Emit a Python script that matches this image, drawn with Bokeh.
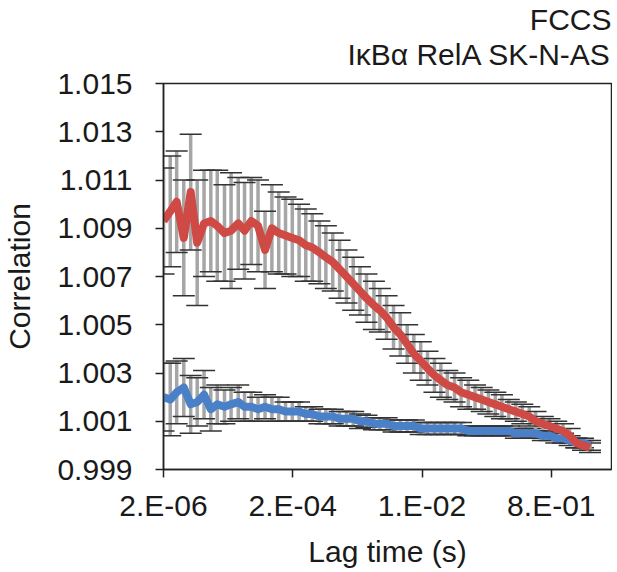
from bokeh.plotting import figure
from bokeh.models import ColumnDataSource, Whisker, TeeHead, FixedTicker, PrintfTickFormatter, Title, Range1d
from bokeh.embed import file_html
from bokeh.resources import INLINE

# Lag time (s)
lag_time = [2.2e-6, 2.75e-6, 3.4e-6, 4.3e-6, 5.4e-6, 6.7e-6, 8.4e-6, 1.05e-5, 1.3e-5, 1.65e-5,
            2.05e-5, 2.6e-5, 3.2e-5, 4.0e-5, 5.0e-5, 6.3e-5, 7.9e-5, 9.9e-5, 1.24e-4, 1.55e-4,
            1.94e-4, 2.42e-4, 3.0e-4, 3.8e-4, 4.7e-4, 5.9e-4, 7.4e-4, 9.3e-4, 1.16e-3, 1.45e-3,
            1.8e-3, 2.3e-3, 2.8e-3, 3.5e-3, 4.4e-3, 5.5e-3, 6.9e-3, 8.6e-3, 1.08e-2, 1.35e-2,
            1.7e-2, 2.1e-2, 2.6e-2, 3.3e-2, 4.1e-2, 5.2e-2, 6.5e-2, 8.1e-2, 0.101, 0.127,
            0.158, 0.198, 0.25, 0.31, 0.39, 0.48, 0.61, 0.76, 0.95, 1.19,
            1.48, 1.85, 2.3, 2.9]

# Cross-correlation (red)
red_mean = [1.0093, 1.0097, 1.0101, 1.0086, 1.0105, 1.0084, 1.0092, 1.0093, 1.0091, 1.0088,
            1.0089, 1.0092, 1.0089, 1.0093, 1.0091, 1.0081, 1.0090, 1.0088, 1.0087, 1.0086,
            1.0085, 1.0083, 1.0082, 1.0080, 1.0078, 1.0076, 1.0073, 1.0070, 1.0067, 1.0064,
            1.0061, 1.0058, 1.0056, 1.0053, 1.0049, 1.0046, 1.0042, 1.0038, 1.0035, 1.0032,
            1.0029, 1.0027, 1.0025, 1.0024, 1.0022, 1.0021, 1.0020, 1.0019, 1.0018, 1.0017,
            1.0016, 1.0015, 1.0014, 1.0013, 1.0012, 1.0010, 1.0009, 1.0008, 1.0007, 1.0006,
            1.0004, 1.0001, 1.0000, 0.9999]
red_err = [0.0022, 0.0023, 0.0021, 0.0024, 0.0024, 0.0026, 0.0022, 0.0021, 0.0023, 0.0020,
           0.0024, 0.0019, 0.0020, 0.0018, 0.0019, 0.0016, 0.0018, 0.0017, 0.0016, 0.0016,
           0.0015, 0.0015, 0.0014, 0.0013, 0.0013, 0.0012, 0.0012, 0.0011, 0.0011, 0.0010,
           0.0010, 0.0010, 0.0009, 0.0009, 0.0009, 0.0009, 0.0008, 0.0008, 0.0008, 0.0007,
           0.0007, 0.0007, 0.0006, 0.0006, 0.0006, 0.0006, 0.0005, 0.0005, 0.0005, 0.0005,
           0.0005, 0.0004, 0.0004, 0.0004, 0.0004, 0.0004, 0.0003, 0.0003, 0.0003, 0.0003,
           0.0003, 0.0002, 0.0002, 0.0002]

# Control (blue)
blue_mean = [1.0020, 1.0019, 1.0022, 1.0024, 1.0017, 1.0018, 1.0021, 1.0015, 1.0017, 1.0016,
             1.0017, 1.0018, 1.0016, 1.0016, 1.0015, 1.0016, 1.0015, 1.0015, 1.0014, 1.0014,
             1.0014, 1.0013, 1.0013, 1.0012, 1.0012, 1.0012, 1.0011, 1.0011, 1.0011, 1.0010,
             1.0010, 1.0009, 1.0009, 1.0009, 1.0008, 1.0008, 1.0008, 1.0008, 1.0007, 1.0007,
             1.0007, 1.0007, 1.0007, 1.0007, 1.0007, 1.0006, 1.0006, 1.0006, 1.0006, 1.0006,
             1.0006, 1.0006, 1.0005, 1.0005, 1.0005, 1.0005, 1.0004, 1.0004, 1.0003, 1.0003,
             1.0002, 1.0001, 1.0001, 1.0000]
blue_err = [0.0014, 0.0015, 0.0013, 0.0012, 0.0012, 0.0010, 0.0010, 0.0009, 0.0008, 0.0007,
            0.0007, 0.0007, 0.0006, 0.0006, 0.0005, 0.0005, 0.0005, 0.0005, 0.0004, 0.0004,
            0.0004, 0.0003, 0.0003, 0.0003, 0.0003, 0.0003, 0.0003, 0.0003, 0.0003, 0.0003,
            0.00025, 0.00025, 0.00025, 0.00025, 0.00025, 0.00025, 0.00025, 0.00025, 0.00025, 0.00025,
            0.00025, 0.00025, 0.00025, 0.00025, 0.00025, 0.0002, 0.0002, 0.0002, 0.0002, 0.0002,
            0.0002, 0.0002, 0.0002, 0.0002, 0.0002, 0.0002, 0.0002, 0.0002, 0.0002, 0.0002,
            0.0002, 0.0002, 0.0002, 0.0002]

x_ticks = [2.2e-6, 1.575e-4, 1.128e-2, 8.075e-1]
x_tick_labels = ["2.E-06", "2.E-04", "1.E-02", "8.E-01"]
y_ticks = [0.999, 1.001, 1.003, 1.005, 1.007, 1.009, 1.011, 1.013, 1.015]

FONT = "Liberation Sans"
FS = "30px"
TXT = "#1a1a1a"

red_src = ColumnDataSource(dict(x=lag_time, y=red_mean,
                                lo=[m - e for m, e in zip(red_mean, red_err)],
                                hi=[m + e for m, e in zip(red_mean, red_err)]))
blue_src = ColumnDataSource(dict(x=lag_time, y=blue_mean,
                                 lo=[m - e for m, e in zip(blue_mean, blue_err)],
                                 hi=[m + e for m, e in zip(blue_mean, blue_err)]))

p = figure(x_axis_type="log", frame_width=448, frame_height=386,
           x_range=Range1d(2.2e-6, 5.9), y_range=Range1d(0.999, 1.015),
           output_backend="svg", toolbar_location=None,
           min_border_left=10, min_border_right=1, min_border_top=0, min_border_bottom=5)

# titles: first added sits closest to the frame
p.add_layout(Title(text=" ", align="right", text_font=FONT, text_font_size="1px", standoff=10), "above")
p.add_layout(Title(text="IκBα RelA SK-N-AS", align="right", text_font=FONT, standoff=0,
                   text_font_size=FS, text_font_style="normal", text_color=TXT), "above")
p.add_layout(Title(text="FCCS", align="right", text_font=FONT, standoff=0,
                   text_font_size=FS, text_font_style="normal", text_color=TXT), "above")

p.xgrid.visible = False
p.ygrid.visible = False
p.outline_line_color = "#222222"
p.outline_line_width = 1.5
p.background_fill_color = "white"
p.border_fill_color = "white"

for ax in (p.xaxis[0], p.yaxis[0]):
    ax.axis_line_color = "#222222"
    ax.axis_line_width = 1.5
    ax.major_tick_line_color = "#222222"
    ax.major_tick_line_width = 1.5
    ax.major_tick_in = 0
    ax.major_tick_out = 8
    ax.minor_tick_line_color = None
    ax.major_label_text_font = FONT
    ax.major_label_text_font_size = FS
    ax.major_label_text_color = TXT
    ax.axis_label_text_font = FONT
    ax.axis_label_text_font_size = FS
    ax.axis_label_text_font_style = "normal"
    ax.axis_label_text_color = TXT

p.xaxis.ticker = FixedTicker(ticks=x_ticks)
p.xaxis.major_label_overrides = {t: l for t, l in zip(x_ticks, x_tick_labels)}
p.xaxis.axis_label = "Lag time (s)"
p.xaxis.major_label_standoff = 11
p.xaxis.axis_label_standoff = 10

p.yaxis.ticker = FixedTicker(ticks=y_ticks)
p.yaxis.formatter = PrintfTickFormatter(format="%.3f")
p.yaxis.axis_label = "Correlation"
p.yaxis.major_label_standoff = 23
p.yaxis.axis_label_standoff = 18

for src in (blue_src, red_src):
    w = Whisker(source=src, base="x", lower="lo", upper="hi", dimension="height",
                line_color="#a6a6a6", line_width=3.5,
                upper_head=TeeHead(size=22, line_color="#333333", line_width=1.5),
                lower_head=TeeHead(size=22, line_color="#333333", line_width=1.5))
    p.add_layout(w)

p.line("x", "y", source=blue_src, line_color="#4a80c8", line_width=8, line_join="round")
p.line("x", "y", source=red_src, line_color="#cf4a45", line_width=8, line_join="round")

open("out.html", "w").write(file_html(p, INLINE))
